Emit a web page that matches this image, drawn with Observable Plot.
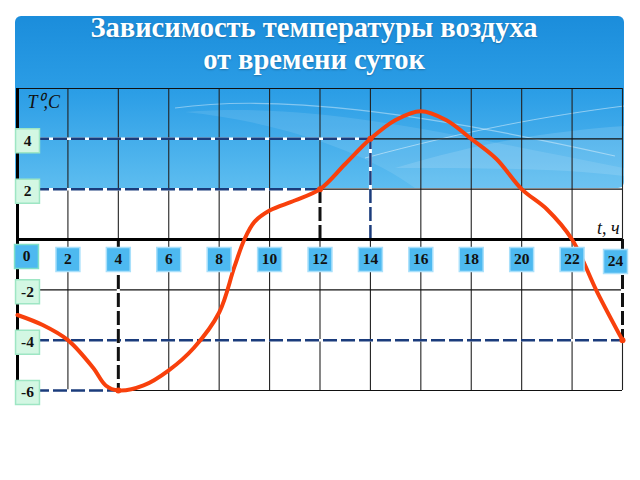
<!DOCTYPE html>
<html>
<head>
<meta charset="utf-8">
<script src="https://cdn.jsdelivr.net/npm/d3@7"></script>
<script src="https://cdn.jsdelivr.net/npm/@observablehq/plot@0.6"></script>
<style>
  body { margin: 0; background: #fff; }
  #wrap { position: relative; width: 640px; height: 480px; overflow: hidden; }
  #panel {
    position: absolute; left: 15px; top: 16px; width: 609px; height: 172px;
    border-radius: 6px;
    background: linear-gradient(#1b8ddb 0%, #2c9ee6 45%, #5dbdf0 100%);
    overflow: hidden;
  }
  #panel svg { position: absolute; left: 0; top: 0; }
  #title {
    position: absolute; left: 0; top: 12px; width: 628px; text-align: center;
    font-family: "Liberation Serif", serif; font-weight: bold; font-size: 28.5px;
    line-height: 32px; color: #fff; text-shadow: 0 1px 2px rgba(0,0,0,0.25);
  }
  #chart { position: absolute; left: 0; top: 0; }
</style>
</head>
<body>
<div id="wrap">
  <div id="panel">
    <svg width="609" height="172">
      <path d="M160,92 C260,78 400,95 600,140" stroke="rgba(255,255,255,0.4)" stroke-width="1.2" fill="none"/>
      <path d="M170,96 C300,86 420,115 609,152 L609,172 L400,172 C350,135 260,105 170,96 Z" fill="rgba(255,255,255,0.1)"/>
      <path d="M350,142 C450,115 530,100 609,90" stroke="rgba(255,255,255,0.45)" stroke-width="1" fill="none"/>
      <path d="M380,152 C470,125 540,115 609,110 L609,160 C540,152 460,152 380,152 Z" fill="rgba(255,255,255,0.13)"/>
    </svg>
  </div>
  <div id="title">Зависимость температуры воздуха<br>от времени суток</div>
  <div id="chart"></div>
</div>
<script>
// Hours of the day (x) and air temperature (y)
const hours = [0, 1, 2, 3, 3.5, 4, 5, 6, 7, 8, 8.6, 9, 9.4, 10, 11, 12, 13, 14, 15, 16, 17, 18, 19, 20, 21, 22, 23, 24];
const temps = [-3, -3.4, -4, -5.1, -5.8, -6, -5.8, -5.2, -4.3, -2.9, -1.1, 0, 0.7, 1.15, 1.55, 2, 3, 4, 4.75, 5.1, 4.75, 4, 3.2, 2, 1.2, 0, -2.1, -4];

// Tick labels
const xTicks = [0, 2, 4, 6, 8, 10, 12, 14, 16, 18, 20, 22, 24];
const yTicks = [-6, -4, -2, 0, 2, 4, 6];
const yLabels = [4, 2, -2, -4, -6];

// Highlighted readings (guide lines)
const keyHours = [4, 12, 14, 24];
const keyTemps = [-6, 2, 4, -4];

const curve = hours.map((t, i) => ({t, T: temps[i]}));
const keys = keyHours.map((t, i) => ({t, T: keyTemps[i]}));

const serif = "Liberation Serif, serif";
const navy = "#1b3c7c";
const red = "#f8400c";

const chart = Plot.plot({
  width: 640,
  height: 480,
  marginLeft: 17,
  marginRight: 18,
  marginTop: 88,
  marginBottom: 90,
  style: {background: "transparent", overflow: "visible"},
  x: {domain: [0, 24], axis: null},
  y: {domain: [-6, 6], axis: null},
  marks: [
    // grid
    Plot.ruleX(xTicks, {stroke: "#222", strokeWidth: 1.1}),
    Plot.ruleY(yTicks, {stroke: "#111", strokeWidth: 1.1}),
    // guide lines: horizontal
    Plot.ruleY(keys, {y: "T", x1: 0, x2: "t", stroke: "#fff", strokeWidth: 2.5}),
    Plot.ruleY(keys, {y: "T", x1: 0, x2: "t", stroke: navy, strokeWidth: 2.5, strokeDasharray: "14,4"}),
    // guide lines: vertical
    Plot.ruleX(keys, {x: "t", y1: 0, y2: "T", stroke: "#fff", strokeWidth: 3}),
    Plot.ruleX(keys.filter(d => d.t !== 14), {x: "t", y1: 0, y2: "T", stroke: "#111", strokeWidth: 3, strokeDasharray: "14,4"}),
    Plot.ruleX(keys.filter(d => d.t === 14), {x: "t", y1: 0, y2: "T", stroke: navy, strokeWidth: 2.5, strokeDasharray: "14,4"}),
    // axes lines
    Plot.ruleX([0], {stroke: "#000", strokeWidth: 3}),
    Plot.ruleY([0], {stroke: "#000", strokeWidth: 3}),
    // the curve
    Plot.line(curve, {x: "t", y: "T", curve: "catmull-rom", stroke: red, strokeWidth: 4, strokeLinejoin: "round", strokeLinecap: "round"}),
    Plot.dot(keys, {x: "t", y: "T", r: 3, fill: red}),
    // x tick label boxes
    Plot.dot(xTicks.filter(d => d > 0 && d < 24), {x: d => d, y: 0, dy: 20, symbol: "square", r: 13.5, fill: "#4db9f0", stroke: "#a9e0fb", strokeWidth: 1.5}),
    Plot.text(xTicks.filter(d => d > 0 && d < 24), {x: d => d, y: 0, dy: 20, text: d => String(d), fontFamily: serif, fontWeight: "bold", fontSize: 15.5, fill: "#111"}),
    Plot.dot([0], {x: d => d, y: 0, dx: 9, dy: 17, symbol: "square", r: 13.5, fill: "#4db9f0", stroke: "#7fe0c8", strokeWidth: 1.5}),
    Plot.text([0], {x: d => d, y: 0, dx: 9, dy: 17, text: d => String(d), fontFamily: serif, fontWeight: "bold", fontSize: 15.5, fill: "#111"}),
    Plot.dot([24], {x: d => d, y: 0, dx: -7, dy: 22, symbol: "square", r: 13.5, fill: "#4db9f0", stroke: "#a9e0fb", strokeWidth: 1.5}),
    Plot.text([24], {x: d => d, y: 0, dx: -7, dy: 22, text: d => String(d), fontFamily: serif, fontWeight: "bold", fontSize: 15.5, fill: "#111"}),
    // y tick label boxes
    Plot.dot(yLabels, {x: 0, y: d => d, dx: 10, dy: 2, symbol: "square", r: 13.5, fill: "#d3f7e3", stroke: "#9ee6c4", strokeWidth: 1.5}),
    Plot.text(yLabels, {x: 0, y: d => d, dx: 10, dy: 2, text: d => String(d), fontFamily: serif, fontWeight: "bold", fontSize: 15.5, fill: "#111"}),
    // axis titles
    Plot.text(["T⁰,C"], {frameAnchor: "top-left", dx: 10, dy: 7, text: d => d, fontFamily: serif, fontStyle: "italic", fontSize: 18, fill: "#111", textAnchor: "start", lineAnchor: "top"}),
    Plot.text(["t, ч"], {x: 24, y: 0, dx: -3, dy: -11, text: d => d, fontFamily: serif, fontStyle: "italic", fontSize: 18, fill: "#111", textAnchor: "end"})
  ]
});
document.getElementById("chart").appendChild(chart);
</script>
</body>
</html>
